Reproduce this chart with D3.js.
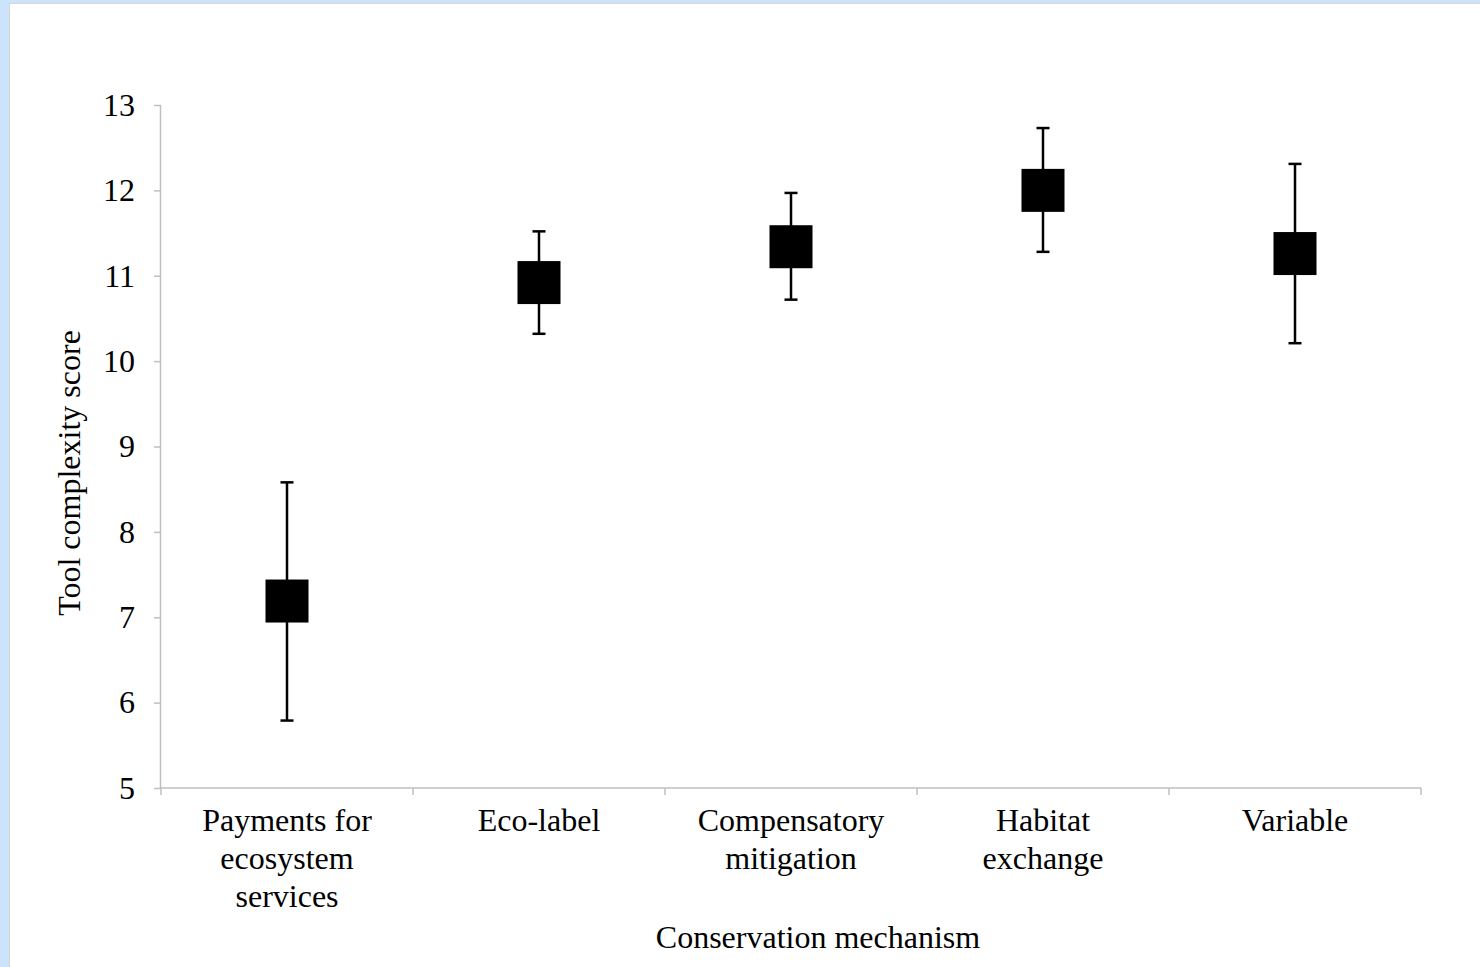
<!DOCTYPE html>
<html>
<head>
<meta charset="utf-8">
<script src="https://cdn.jsdelivr.net/npm/d3@7"></script>
<style>
  html, body { margin: 0; padding: 0; background: #cce4fb; }
  #panel { position: absolute; left: 9px; top: 3px; width: 1471px; height: 964px;
           background: #fff; border-left: 1px solid #d6d6d6; border-top: 1px solid #d6d6d6; }
  svg { display: block; }
  text { font-family: "Liberation Serif", "Times New Roman", serif; fill: #000; }
</style>
</head>
<body>
<div id="panel"></div>
<script>
// Mean tool complexity score per conservation mechanism, with error ranges
const categories = [
  ["Payments for", "ecosystem", "services"],
  ["Eco-label"],
  ["Compensatory", "mitigation"],
  ["Habitat", "exchange"],
  ["Variable"]
];
const means = [7.19, 10.92, 11.34, 12.00, 11.26];
const upper = [8.58, 11.52, 11.97, 12.73, 12.31];
const lower = [5.79, 10.32, 10.72, 11.28, 10.21];
const yTicks = [5, 6, 7, 8, 9, 10, 11, 12, 13];

const W = 1471, H = 964;
const offX = 10, offY = 4; // panel offset within the window
const margin = { left: 161 - offX, right: W - (1421 - offX), top: 105 - offY, bottom: H - (788 - offY) };

const svg = d3.select("#panel").append("svg").attr("width", W).attr("height", H);
const g = svg.append("g").attr("transform", `translate(${margin.left},${margin.top})`);
const iw = W - margin.left - margin.right;
const ih = H - margin.top - margin.bottom;

const data = categories.map((c, i) => ({ key: i, lines: c, mean: means[i], hi: upper[i], lo: lower[i] }));

const x = d3.scaleBand().domain(data.map(d => d.key)).range([0, iw]).padding(0);
const y = d3.scaleLinear().domain([5, 13]).range([ih, 0]);

const axisColor = "#bfbfbf";
const fontSize = 32;

// Y axis
const yAxis = g.append("g").call(d3.axisLeft(y).tickValues(yTicks).tickSize(7).tickPadding(19).tickFormat(d3.format("d")));
yAxis.select(".domain").attr("stroke", axisColor).attr("stroke-width", 1.5).attr("d", `M-0.5,0V${ih}`);
yAxis.selectAll(".tick line").attr("stroke", axisColor).attr("stroke-width", 1.5);
yAxis.selectAll(".tick text").attr("font-size", fontSize).attr("font-family", "Liberation Serif");

// X axis: ticks at category boundaries
const xg = g.append("g").attr("transform", `translate(0,${ih})`);
xg.append("line").attr("x1", 0).attr("x2", iw).attr("y1", 0).attr("y2", 0)
  .attr("stroke", axisColor).attr("stroke-width", 1.5);
const bounds = d3.range(categories.length + 1).map(i => i * x.step());
xg.selectAll("line.btick").data(bounds).join("line").attr("class", "btick")
  .attr("x1", d => d).attr("x2", d => d).attr("y1", 0).attr("y2", 7)
  .attr("stroke", axisColor).attr("stroke-width", 1.5);

// Category labels (multi-line)
const labels = xg.selectAll("text.cat").data(data).join("text").attr("class", "cat")
  .attr("text-anchor", "middle").attr("font-size", fontSize)
  .attr("transform", d => `translate(${x(d.key) + x.bandwidth() / 2},${43})`);
labels.selectAll("tspan").data(d => d.lines).join("tspan")
  .attr("x", 0).attr("dy", (d, i) => i === 0 ? 0 : 38).text(d => d);

// Error bars
const cx = d => x(d.key) + x.bandwidth() / 2;
const capW = 13;
const marks = g.append("g");
marks.selectAll("line.whisker").data(data).join("line").attr("class", "whisker")
  .attr("x1", cx).attr("x2", cx).attr("y1", d => y(d.hi)).attr("y2", d => y(d.lo))
  .attr("stroke", "#000").attr("stroke-width", 2.5);
marks.selectAll("line.capHi").data(data).join("line").attr("class", "capHi")
  .attr("x1", d => cx(d) - capW / 2).attr("x2", d => cx(d) + capW / 2)
  .attr("y1", d => y(d.hi)).attr("y2", d => y(d.hi))
  .attr("stroke", "#000").attr("stroke-width", 2.5);
marks.selectAll("line.capLo").data(data).join("line").attr("class", "capLo")
  .attr("x1", d => cx(d) - capW / 2).attr("x2", d => cx(d) + capW / 2)
  .attr("y1", d => y(d.lo)).attr("y2", d => y(d.lo))
  .attr("stroke", "#000").attr("stroke-width", 2.5);

// Mean markers (filled squares)
const sq = 43;
marks.selectAll("rect.mean").data(data).join("rect").attr("class", "mean")
  .attr("x", d => cx(d) - sq / 2).attr("y", d => y(d.mean) - sq / 2)
  .attr("width", sq).attr("height", sq).attr("fill", "#000");

// Axis titles
svg.append("text").attr("text-anchor", "middle").attr("font-size", fontSize)
  .attr("transform", `translate(${80 - offX},${473 - offY}) rotate(-90)`)
  .text("Tool complexity score");
svg.append("text").attr("text-anchor", "middle").attr("font-size", fontSize)
  .attr("x", 818 - offX).attr("y", 948 - offY)
  .text("Conservation mechanism");
</script>
</body>
</html>
